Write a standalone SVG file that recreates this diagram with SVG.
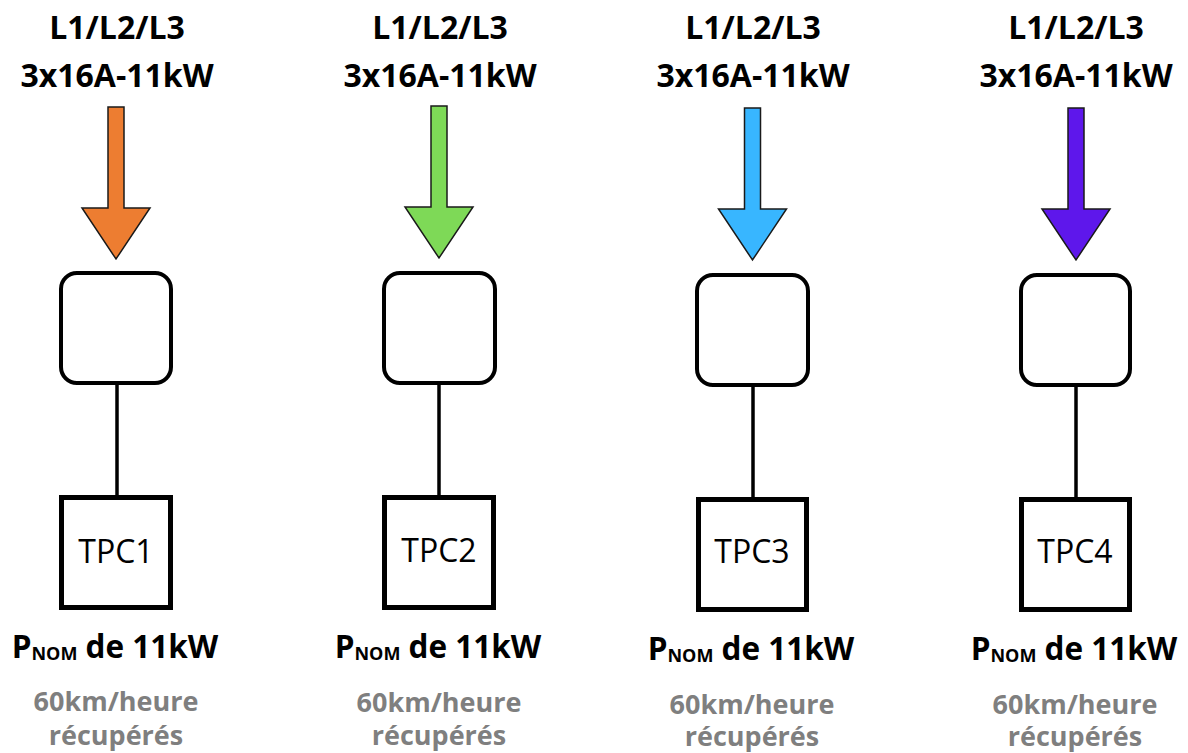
<svg xmlns="http://www.w3.org/2000/svg" width="1188" height="753" viewBox="0 0 1188 753">
<style>
.hdr{font-family:"Open Sans","Liberation Sans",sans-serif;font-weight:700;font-size:32px;fill:#000;text-anchor:middle}
.pnom{font-family:"Open Sans","Liberation Sans",sans-serif;font-weight:700;font-size:31.5px;fill:#000;text-anchor:middle}
.sub{font-size:18px}
.gain{font-family:"Open Sans","Liberation Sans",sans-serif;font-weight:700;font-size:27px;fill:#7f7f7f;text-anchor:middle}
.tpc{font-family:"Open Sans","Liberation Sans",sans-serif;font-size:32px;fill:#000;text-anchor:middle}
.arrow{stroke:#1a1a1a;stroke-width:1.5;stroke-linejoin:miter}
.unit{fill:#fff;stroke:#000;stroke-width:4}
.box{fill:#fff;stroke:#000;stroke-width:5}
.wire{stroke:#000;stroke-width:3.5;fill:none}
</style>
<defs>
<path id="arr" d="M -8,0 H 8 V 101 H 34 L 0,152 L -34,101 H -8 Z"/>
</defs>
<g id="connectors">
<line class="wire" x1="117" y1="385" x2="117" y2="495"/>
<line class="wire" x1="439" y1="385" x2="439" y2="495"/>
<line class="wire" x1="753" y1="387" x2="753" y2="497"/>
<line class="wire" x1="1076" y1="387" x2="1076" y2="497"/>
</g>
<g id="col1">
<text class="hdr" x="117" y="39">L1/L2/L3</text>
<text class="hdr" x="117" y="87">3x16A-11kW</text>
<use href="#arr" class="arrow" fill="#ED7D31" transform="translate(116,107)"/>
<rect class="unit" x="61" y="273" width="110" height="110" rx="16"/>
<rect class="box" x="61.5" y="497.5" width="109" height="110"/>
<text class="tpc" x="116" y="563">TPC1</text>
<text class="pnom" x="115" y="658">P<tspan class="sub" dy="2">NOM</tspan><tspan dy="-2"> de 11kW</tspan></text>
<text class="gain" x="116" y="711">60km/heure</text>
<text class="gain" x="116" y="745">récupérés</text>
</g>
<g id="col2">
<text class="hdr" x="440" y="39">L1/L2/L3</text>
<text class="hdr" x="440" y="87">3x16A-11kW</text>
<use href="#arr" class="arrow" fill="#7ED957" transform="translate(439,106)"/>
<rect class="unit" x="384" y="273" width="111" height="110" rx="16"/>
<rect class="box" x="384.5" y="497.5" width="109" height="110"/>
<text class="tpc" x="439" y="562">TPC2</text>
<text class="pnom" x="438" y="658">P<tspan class="sub" dy="2">NOM</tspan><tspan dy="-2"> de 11kW</tspan></text>
<text class="gain" x="439" y="712">60km/heure</text>
<text class="gain" x="439" y="745">récupérés</text>
</g>
<g id="col3">
<text class="hdr" x="753" y="39">L1/L2/L3</text>
<text class="hdr" x="753" y="87">3x16A-11kW</text>
<use href="#arr" class="arrow" fill="#38B6FF" transform="translate(752.5,108)"/>
<rect class="unit" x="697" y="275" width="111" height="110" rx="16"/>
<rect class="box" x="698.5" y="499.5" width="108" height="110"/>
<text class="tpc" x="752" y="563">TPC3</text>
<text class="pnom" x="751" y="660">P<tspan class="sub" dy="2">NOM</tspan><tspan dy="-2"> de 11kW</tspan></text>
<text class="gain" x="752" y="714">60km/heure</text>
<text class="gain" x="752" y="746">récupérés</text>
</g>
<g id="col4">
<text class="hdr" x="1076" y="39">L1/L2/L3</text>
<text class="hdr" x="1076" y="87">3x16A-11kW</text>
<use href="#arr" class="arrow" fill="#5E17EB" transform="translate(1076,108)"/>
<rect class="unit" x="1021" y="275" width="109" height="110" rx="16"/>
<rect class="box" x="1021.5" y="499.5" width="108" height="110"/>
<text class="tpc" x="1075" y="563">TPC4</text>
<text class="pnom" x="1074" y="660">P<tspan class="sub" dy="2">NOM</tspan><tspan dy="-2"> de 11kW</tspan></text>
<text class="gain" x="1075" y="714">60km/heure</text>
<text class="gain" x="1075" y="746">récupérés</text>
</g>
</svg>
